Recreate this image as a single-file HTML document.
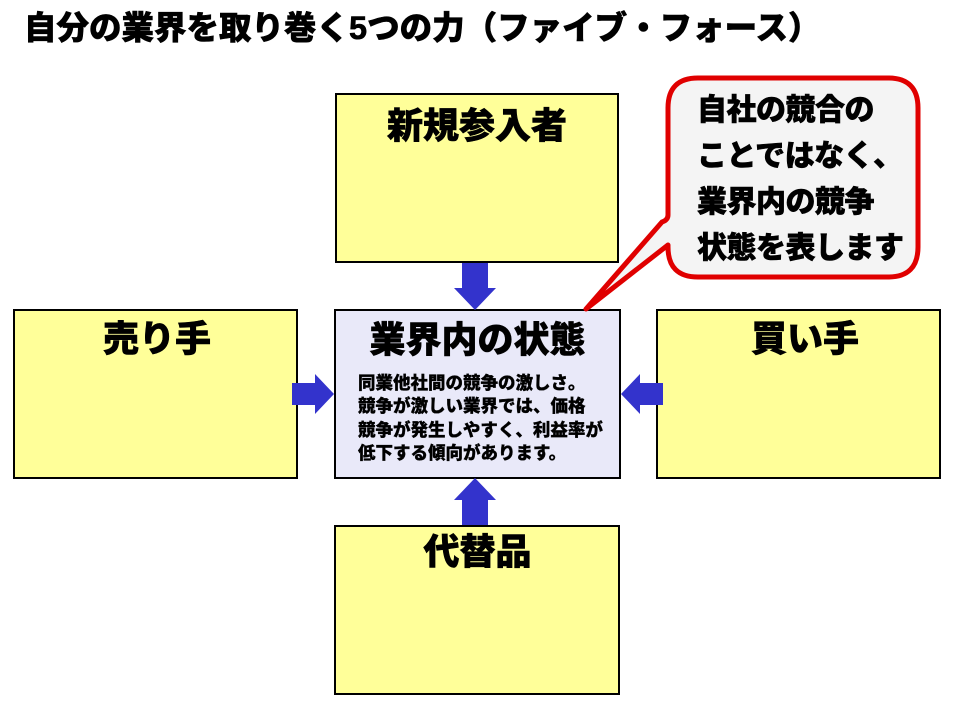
<!DOCTYPE html>
<html><head><meta charset="utf-8"><style>
body{margin:0;width:956px;height:704px;background:#fff;position:relative;overflow:hidden;font-family:"Liberation Sans","Noto Sans CJK JP",sans-serif;font-weight:900;color:#000}
.b{position:absolute;border:2px solid #000;background:#ffff99;box-sizing:border-box}
.t{position:absolute;font-size:36px;line-height:40px;white-space:nowrap;-webkit-text-stroke:0.6px #000}
</style></head><body>
<div class="t" style="left:24px;top:10px;font-size:32.5px;line-height:36px">自分の業界を取り巻く5つの力（ファイブ・フォース）</div>
<div class="b" style="left:335px;top:93px;width:284px;height:170px"></div>
<div class="b" style="left:13px;top:309px;width:285px;height:170px"></div>
<div class="b" style="left:334px;top:309px;width:287px;height:170px;background:#e9e9f9"></div>
<div class="b" style="left:656px;top:309px;width:285px;height:170px"></div>
<div class="b" style="left:334px;top:525px;width:286px;height:170px"></div>
<div class="t" style="left:335px;width:284px;text-align:center;top:106px">新規参入者</div>
<div class="t" style="left:103px;top:319px">売り手</div>
<div class="t" style="left:751px;top:319px">買い手</div>
<div class="t" style="left:334px;width:287px;text-align:center;top:532px">代替品</div>
<div class="t" style="left:334px;width:287px;text-align:center;top:320px">業界内の状態</div>
<div style="position:absolute;left:358px;top:372px;font-size:17.5px;line-height:23.3px;white-space:nowrap;-webkit-text-stroke:0.3px #000">同業他社間の競争の激しさ。<br>競争が激しい業界では、価格<br>競争が発生しやすく、利益率が<br>低下する傾向があります。</div>
<svg width="956" height="704" style="position:absolute;left:0;top:0">
<g fill="#3333cc">
<polygon points="462,263 488,263 488,288 496,288 475,310 454,288 462,288"/>
<polygon points="462,525 488,525 488,500 496,500 475,478 454,500 462,500"/>
<polygon points="292,383 315,383 315,374 334,394 315,414 315,405 292,405"/>
<polygon points="663,383 640,383 640,374 621,394 640,414 640,405 663,405"/>
</g>
<path d="M698,78 H888 Q918,78 918,108 V247 Q918,277 888,277 H698 Q668,277 668,247 V245 L586,309 L662,222 Q668,220 668,215 V108 Q668,78 698,78 Z" fill="#f4f4f4" stroke="#e00000" stroke-width="5" stroke-linejoin="round"/>
</svg>
<div style="position:absolute;left:697px;top:88px;font-size:30px;line-height:46px;white-space:nowrap;-webkit-text-stroke:0.6px #000;letter-spacing:-0.5px">自社の競合の<br>ことではなく、<br>業界内の競争<br>状態を表します</div>
</body></html>
